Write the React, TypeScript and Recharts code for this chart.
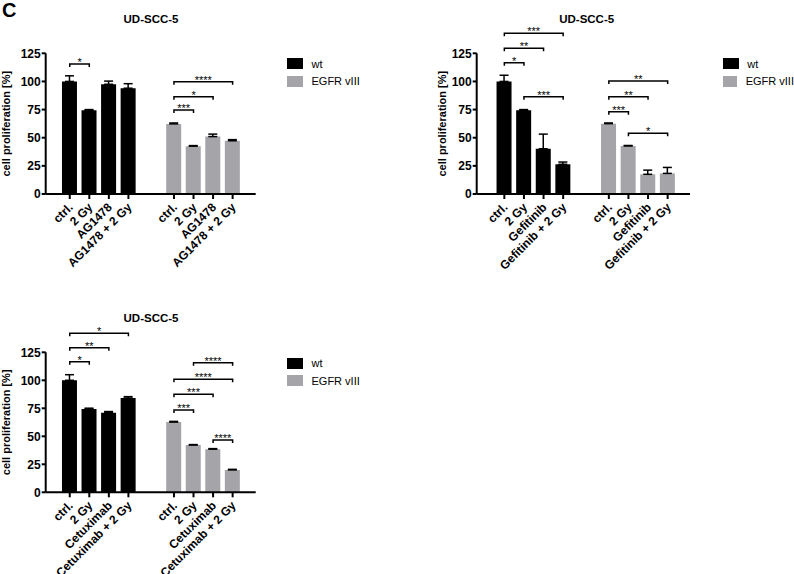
import React from "react";
import {
  BarChart,
  Bar,
  Cell,
  XAxis,
  YAxis,
  ErrorBar,
  ReferenceLine,
  Legend,
} from "recharts";

const FONT = '"Liberation Sans", Arial, sans-serif';
const WT_COLOR = "#000000";
const EGFR_COLOR = "#a4a4a9";

// x slots: wt group, then EGFR vIII group after a gap
const SLOTS = [0, 1, 2, 3, 5.33, 6.33, 7.33, 8.33];

const legendNames = ["wt", "EGFR vIII"];
const legendColors = [WT_COLOR, EGFR_COLOR];
const yTicks = [0, 25, 50, 75, 100, 125];

// AG1478
const agLabels = ["ctrl.", "2 Gy", "AG1478", "AG1478 + 2 Gy"];
const agWt = [100, 74.3, 97.5, 94];
const agWtErr = [5, 0.7, 2.8, 4];
const agEgfr = [62.3, 42.5, 51, 47.3];
const agEgfrErr = [0.8, 0.5, 2.2, 1];
const agBrackets: [number, number, number, string][] = [
  [0, 1, 115.5, "*"],
  [4, 5, 74.6, "***"],
  [4, 6, 86.4, "*"],
  [4, 7, 99.8, "****"],
];

// Gefitinib
const gefLabels = ["ctrl.", "2 Gy", "Gefitinib", "Gefitinib + 2 Gy"];
const gefWt = [100, 74.4, 40.2, 26.4];
const gefWtErr = [5.5, 0.6, 13, 2];
const gefEgfr = [62.5, 42.7, 17.5, 18.3];
const gefEgfrErr = [0.6, 0.4, 3.7, 5.3];
const gefBrackets: [number, number, number, string][] = [
  [0, 1, 116.7, "*"],
  [0, 2, 129.4, "**"],
  [0, 3, 142.8, "***"],
  [1, 3, 86.4, "***"],
  [4, 5, 73.1, "***"],
  [4, 6, 86.4, "**"],
  [4, 7, 100.4, "**"],
  [5, 7, 53.9, "*"],
];

// Cetuximab
const cetLabels = ["ctrl.", "2 Gy", "Cetuximab", "Cetuximab + 2 Gy"];
const cetWt = [100, 74.4, 71.1, 84.2];
const cetWtErr = [5, 0.7, 1, 1.2];
const cetEgfr = [62.7, 42.2, 38.5, 20];
const cetEgfrErr = [0.6, 0.4, 0.5, 0.5];
const cetBrackets: [number, number, number, string][] = [
  [0, 1, 116.6, "*"],
  [0, 2, 129.1, "**"],
  [0, 3, 142, "*"],
  [4, 5, 73.5, "***"],
  [4, 6, 87.5, "***"],
  [4, 7, 100.9, "****"],
  [5, 7, 115.7, "****"],
  [6, 7, 46.7, "****"],
];

type Row = { pos: number; label: string; value: number; err: number[]; color: string };

function buildRows(labels: string[], wt: number[], wtErr: number[], egfr: number[], egfrErr: number[]): Row[] {
  const rows: Row[] = [];
  labels.forEach((label, i) => {
    rows.push({ pos: SLOTS[i], label, value: wt[i], err: [0, wtErr[i]], color: WT_COLOR });
  });
  labels.forEach((label, i) => {
    rows.push({ pos: SLOTS[i + 4], label, value: egfr[i], err: [0, egfrErr[i]], color: EGFR_COLOR });
  });
  return rows;
}

const bracketShape = (stars: string) => (props: any) => {
  const { x1, y1, x2 } = props;
  return (
    <g>
      <path d={`M${x1},${y1 + 3}V${y1}H${x2}V${y1 + 3}`} stroke="#000" strokeWidth={1.5} fill="none" />
      <text x={(x1 + x2) / 2} y={y1 + 2} textAnchor="middle" fontSize={11} fontFamily={FONT} fill="#000">
        {stars}
      </text>
    </g>
  );
};

const renderLegend = () => (
  <div style={{ fontFamily: FONT, fontSize: 11, color: "#000", whiteSpace: "nowrap" }}>
    {legendNames.map((name, i) => (
      <div key={name} style={{ display: "flex", alignItems: "center", height: 17.7 }}>
        <span style={{ display: "inline-block", width: 16, height: 11, background: legendColors[i], marginRight: 8.5 }} />
        <span>{name}</span>
      </div>
    ))}
  </div>
);

interface PanelProps {
  left: number;
  top: number;
  width: number;
  height: number;
  marginTop: number;
  marginRight: number;
  yAxisWidth: number;
  xAxisHeight: number;
  labelOffset: number;
  domain: [number, number];
  rows: Row[];
  brackets: [number, number, number, string][];
  titleX: number;
  titleY: number;
  legendX: number;
  legendY: number;
}

function Panel(p: PanelProps) {
  const XTick = (props: any) => {
    const { x, y, payload } = props;
    const row = p.rows.find((r) => Math.abs(r.pos - payload.value) < 1e-6);
    const ax = x + 1;
    const ay = y + 4;
    return (
      <text
        x={ax}
        y={ay}
        dy="0.35em"
        textAnchor="end"
        transform={`rotate(-45, ${ax}, ${ay})`}
        fontSize={12}
        fontWeight="bold"
        fontFamily={FONT}
        fill="#000"
      >
        {row ? row.label : ""}
      </text>
    );
  };

  return (
    <div style={{ position: "absolute", left: p.left, top: p.top, width: p.width, height: p.height }}>
      <div
        style={{
          position: "absolute",
          left: p.titleX - p.left - 60,
          top: p.titleY - p.top - 7,
          width: 120,
          textAlign: "center",
          fontFamily: FONT,
          fontWeight: "bold",
          fontSize: 11.5,
          lineHeight: "14px",
        }}
      >
        UD-SCC-5
      </div>
      <BarChart
        width={p.width}
        height={p.height}
        data={p.rows}
        margin={{ top: p.marginTop, right: p.marginRight, bottom: 0, left: 0 }}
      >
        <XAxis
          dataKey="pos"
          type="number"
          domain={p.domain}
          ticks={SLOTS}
          interval={0}
          allowDataOverflow
          height={p.xAxisHeight}
          tick={<XTick />}
          tickSize={5}
          tickMargin={2}
          axisLine={{ stroke: "#000", strokeWidth: 2 }}
          tickLine={{ stroke: "#000", strokeWidth: 2 }}
        />
        <YAxis
          type="number"
          domain={[0, 125]}
          ticks={yTicks}
          interval={0}
          width={p.yAxisWidth}
          tickSize={4}
          tickMargin={1}
          axisLine={{ stroke: "#000", strokeWidth: 2 }}
          tickLine={{ stroke: "#000", strokeWidth: 2 }}
          tick={{ fontSize: 12, fontWeight: "bold", fill: "#000", fontFamily: FONT }}
          label={{
            value: "cell proliferation [%]",
            angle: -90,
            position: "insideLeft",
            offset: p.labelOffset,
            style: { textAnchor: "middle", fontSize: 11, fontWeight: "bold", fill: "#000", fontFamily: FONT },
          }}
        />
        <Legend
          layout="vertical"
          align="center"
          verticalAlign="middle"
          content={renderLegend}
          wrapperStyle={{ left: p.legendX - p.left, top: p.legendY - p.top - 3.35, width: p.width - (p.legendX - p.left) }}
        />
        <Bar dataKey="value" barSize={15} isAnimationActive={false}>
          {p.rows.map((r) => (
            <Cell key={r.pos} fill={r.color} />
          ))}
          <ErrorBar dataKey="err" width={4.5} strokeWidth={1.5} stroke="#000" direction="y" />
        </Bar>
        {p.brackets.map(([a, b, level, stars], i) => (
          <ReferenceLine
            key={i}
            segment={[
              { x: SLOTS[a], y: level },
              { x: SLOTS[b], y: level },
            ]}
            ifOverflow="visible"
            shape={bracketShape(stars)}
          />
        ))}
      </BarChart>
    </div>
  );
}

export default function App() {
  return (
    <div style={{ position: "absolute", left: 0, top: 0, width: 794, height: 574, background: "#fff", overflow: "hidden" }}>
      <div
        style={{ position: "absolute", left: 2, top: 0, fontFamily: FONT, fontWeight: "bold", fontSize: 20, lineHeight: "20px" }}
      >
        C
      </div>
      <Panel
        left={0}
        top={0}
        width={400}
        height={290}
        marginTop={53.3}
        marginRight={144.3}
        yAxisWidth={45.7}
        xAxisHeight={96}
        labelOffset={6}
        domain={[-1.23, 9.51]}
        rows={buildRows(agLabels, agWt, agWtErr, agEgfr, agEgfrErr)}
        brackets={agBrackets}
        titleX={151}
        titleY={19}
        legendX={287}
        legendY={58.3}
      />
      <Panel
        left={400}
        top={0}
        width={394}
        height={290}
        marginTop={53.3}
        marginRight={104}
        yAxisWidth={76.7}
        xAxisHeight={96}
        labelOffset={42}
        domain={[-1.41, 9.47]}
        rows={buildRows(gefLabels, gefWt, gefWtErr, gefEgfr, gefEgfrErr)}
        brackets={gefBrackets}
        titleX={586.7}
        titleY={19}
        legendX={722.7}
        legendY={58.3}
      />
      <Panel
        left={0}
        top={290}
        width={400}
        height={284}
        marginTop={62.3}
        marginRight={144.3}
        yAxisWidth={45.7}
        xAxisHeight={81.7}
        labelOffset={6}
        domain={[-1.23, 9.51]}
        rows={buildRows(cetLabels, cetWt, cetWtErr, cetEgfr, cetEgfrErr)}
        brackets={cetBrackets}
        titleX={151}
        titleY={318.3}
        legendX={287}
        legendY={357.7}
      />
    </div>
  );
}
